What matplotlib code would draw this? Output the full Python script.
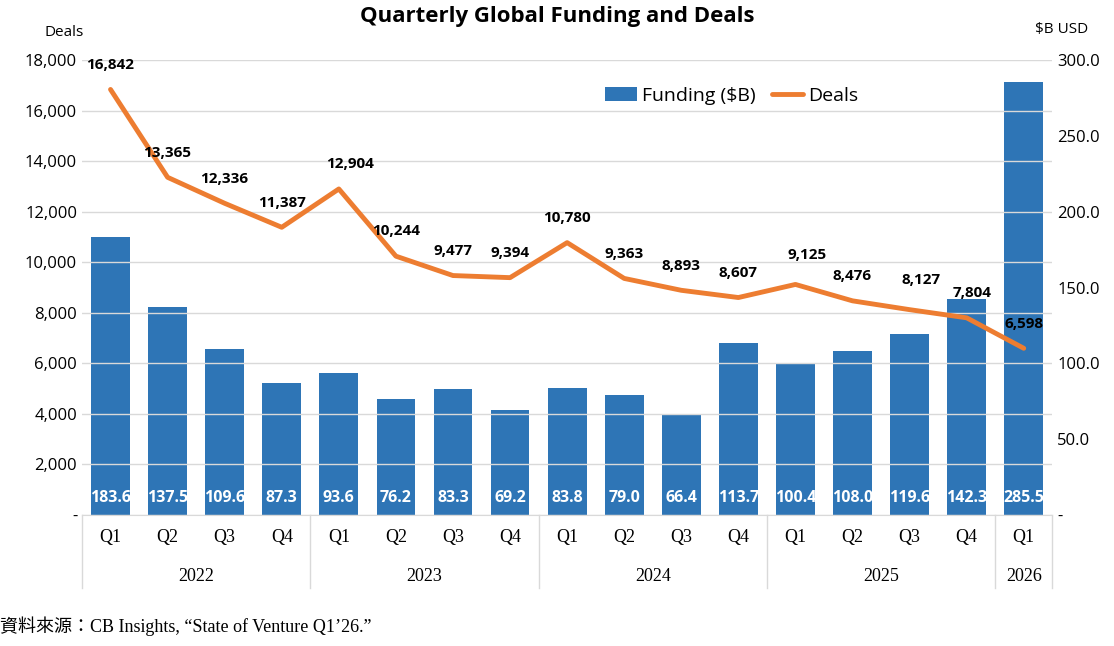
import matplotlib.pyplot as plt
from matplotlib.ticker import FuncFormatter

quarters = ["Q1", "Q2", "Q3", "Q4"] * 4 + ["Q1"]
years = ["2022", "2023", "2024", "2025", "2026"]
year_len = [4, 4, 4, 4, 1]
funding = [183.6, 137.5, 109.6, 87.3, 93.6, 76.2, 83.3, 69.2, 83.8, 79.0, 66.4, 113.7,
           100.4, 108.0, 119.6, 142.3, 285.5]
deals = [16842, 13365, 12336, 11387, 12904, 10244, 9477, 9394, 10780, 9363, 8893, 8607,
         9125, 8476, 8127, 7804, 6598]

plt.rcParams['font.family'] = ['Open Sans', 'Noto Sans CJK TC', 'DejaVu Sans']
blue = "#2E75B6"
orange = "#ED7D31"

fig = plt.figure(figsize=(11.14, 6.46), dpi=100)
ax = fig.add_axes([0.0736, 0.2028, 0.871, 0.704])
ax2 = ax.twinx()
x = list(range(len(quarters)))

ax.set_ylim(0, 18000)
ax2.set_ylim(0, 300)
ax.set_xlim(-0.5, len(x) - 0.5)
ax.set_yticks(range(0, 18001, 2000))
ax2.set_yticks(range(0, 301, 50))
ax.yaxis.set_major_formatter(FuncFormatter(lambda v, p: "-" if v == 0 else f"{v:,.0f}"))
ax2.yaxis.set_major_formatter(FuncFormatter(lambda v, p: "-" if v == 0 else f"{v:.1f}"))
ax.grid(axis="y", color="#d9d9d9", lw=1)
ax.set_axisbelow(True)
for a in (ax, ax2):
    for s in a.spines.values():
        s.set_visible(False)
    a.tick_params(length=0, labelsize=12)
ax.spines["bottom"].set_visible(True)
ax.spines["bottom"].set_color("#d9d9d9")

# bars on right axis, drawn behind line
ax2.set_zorder(1)
ax.set_zorder(2)
ax.patch.set_visible(False)
ax2.bar(x, funding, width=0.68, color=blue, label="Funding ($B)")
for i, v in enumerate(funding):
    ax2.text(i, 6, f"{v:.1f}", ha="center", va="bottom", color="white", fontsize=11.5, fontweight="bold")

ax.plot(x, deals, color=orange, lw=3.5, label="Deals", solid_capstyle="round")
offs = {12: (0.2, 900), 14: (0.2, 900), 15: (0.1, 700), 16: (0.0, 700), 4: (0.2, 700)}
for i, v in enumerate(deals):
    dx, dy = offs.get(i, (0.0, 700))
    ax.text(i + dx, v + dy, f"{v:,}", ha="center", va="bottom", fontsize=11, fontweight="bold")

h1, l1 = ax2.get_legend_handles_labels()
h2, l2 = ax.get_legend_handles_labels()
ax.legend(h1 + h2, l1 + l2, loc="upper center", bbox_to_anchor=(0.67, 0.98), ncol=2,
          frameon=False, fontsize=14, handlelength=1.6, columnspacing=0.8, handletextpad=0.3)

ax.set_xticks(x)
ax.set_xticklabels(quarters, fontsize=13, family="Liberation Serif")
ax.tick_params(axis="x", pad=10)

# year row and separators
start = 0
for y, n in zip(years, year_len):
    ax.text(start + (n - 1) / 2, -0.135, y, transform=ax.get_xaxis_transform(), ha="center",
            va="center", fontsize=13, family="Liberation Serif")
    ax.plot([start - 0.5] * 2, [0, -0.16], transform=ax.get_xaxis_transform(), color="#d9d9d9",
            lw=1, clip_on=False)
    start += n
ax.plot([start - 0.5] * 2, [0, -0.16], transform=ax.get_xaxis_transform(), color="#d9d9d9",
        lw=1, clip_on=False)

fig.text(0.5, 0.975, "Quarterly Global Funding and Deals", ha="center", va="center",
         fontsize=16, fontweight="bold")
fig.text(0.04, 0.95, "Deals", ha="left", va="center", fontsize=11)
fig.text(0.977, 0.955, "$B USD", ha="right", va="center", fontsize=11)
fig.text(0.0, 0.015, "資料來源：CB Insights, “State of Venture Q1’26.”", ha="left", va="bottom",
         fontsize=13, family=["Liberation Serif", "Noto Sans CJK TC"])

fig.savefig("out.png", dpi=100)
